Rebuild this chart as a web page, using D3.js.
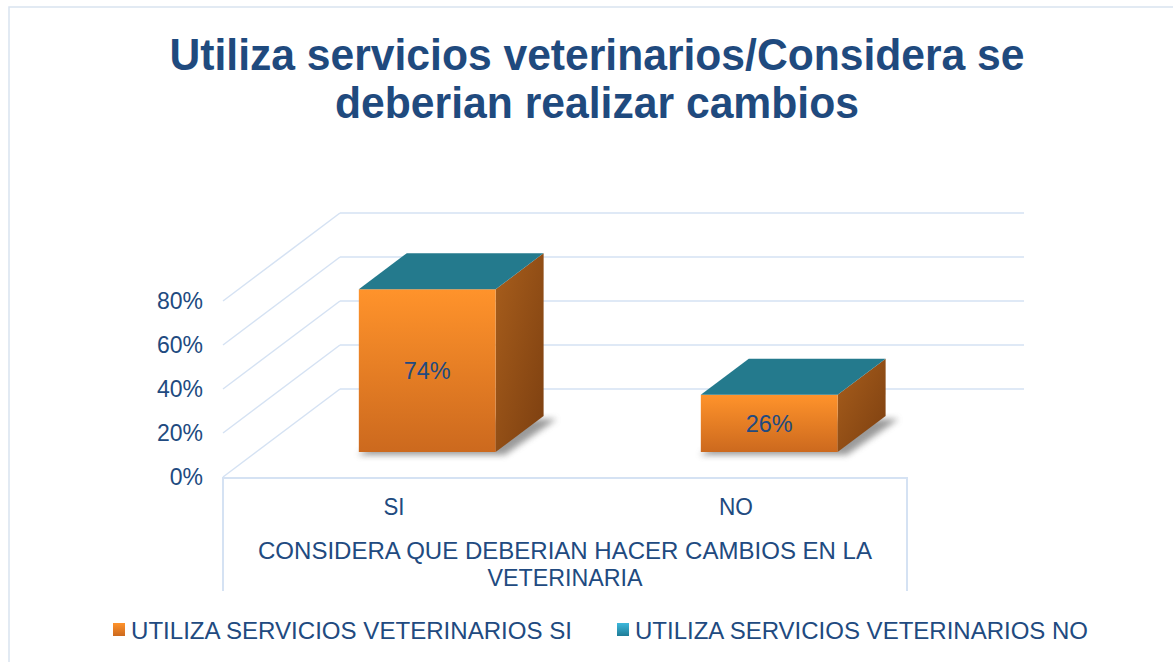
<!DOCTYPE html>
<head>
<meta charset="utf-8">
<style>
body { margin: 0; background: #fff; }
svg text { font-family: "Liberation Sans", Arial, sans-serif; fill: #214a80; }
.title text { font-weight: bold; font-size: 45px; fill: #1f4a7e; }
.tick text { font-size: 23px; }
.grid line { stroke: #d5e2f3; stroke-width: 1.5; }
</style>
</head>
<body>
<svg class="chart"></svg>
<script src="https://cdn.jsdelivr.net/npm/d3@7"></script>
<script>

const categories = ['SI', 'NO']
const siValues = [0.74, 0.26]
const noValues = [0, 0]
const seriesNames = ['UTILIZA SERVICIOS VETERINARIOS SI', 'UTILIZA SERVICIOS VETERINARIOS NO']
const yTicks = [0, 0.2, 0.4, 0.6, 0.8]
const axisTitle = ['CONSIDERA QUE DEBERIAN HACER CAMBIOS EN LA', 'VETERINARIA']
const titleLines = ['Utiliza servicios veterinarios/Considera se', 'deberian realizar cambios']

const size = {width: 1173, height: 662}
const depth = {dx: 117, dy: -88}
const barDepth = {from: 0.284, to: 0.694}

const svg = d3.select('svg')
  .attr('width', size.width)
  .attr('height', size.height)

const defs = svg.append('defs')

function gradient(id, stops, x2, y2) {
  const g = defs.append('linearGradient')
    .attr('id', id)
    .attr('x1', 0).attr('y1', 0).attr('x2', x2).attr('y2', y2)
  stops.forEach((c, i) => g.append('stop').attr('offset', i / (stops.length - 1)).attr('stop-color', c))
}
gradient('orangeFront', ['#ff932b', '#cc691e'], 0, 1)
gradient('orangeSide', ['#a85e1c', '#7c3f10'], 1, 1)
gradient('orangeKey', ['#ff932b', '#cc691e'], 0, 1)
gradient('tealKey', ['#3db8dc', '#1f7c97'], 0, 1)

defs.append('filter').attr('id', 'blur')
  .attr('x', '-20%').attr('y', '-20%').attr('width', '140%').attr('height', '140%')
  .append('feGaussianBlur').attr('stdDeviation', 3)

const series = [
  {name: seriesNames[0], values: siValues, front: 'url(#orangeFront)', side: 'url(#orangeSide)', top: '#ff932b', key: 'url(#orangeKey)'},
  {name: seriesNames[1], values: noValues, front: '#2f9bb8', side: '#1f6c80', top: '#247a8d', key: 'url(#tealKey)'}
]

// frame
svg.append('rect')
  .attr('x', 9).attr('y', 7)
  .attr('width', size.width).attr('height', size.height)
  .attr('fill', 'none')
  .attr('stroke', '#d9e3f0')
  .attr('stroke-width', 1.5)

// title
svg.append('g').attr('class', 'title')
  .selectAll('text')
  .data(titleLines)
  .enter()
  .append('text')
    .attr('x', 597)
    .attr('y', (d, i) => 70 + i * 48)
    .attr('text-anchor', 'middle')
    .attr('textLength', (d, i) => [855, 524][i])
    .attr('lengthAdjust', 'spacingAndGlyphs')
    .text(d => d)

const x = d3.scaleBand().domain(categories).range([223, 907])
const y = d3.scaleLinear().domain([0, 0.8]).range([477, 301])

const pt = (xv, v, f) => [xv + f * depth.dx, y(v) + f * depth.dy]

// walls
const grid = svg.append('g').attr('class', 'grid')
grid.selectAll('line.side')
  .data(yTicks)
  .enter()
  .append('line')
    .attr('class', 'side')
    .attr('x1', x.range()[0]).attr('y1', d => y(d))
    .attr('x2', x.range()[0] + depth.dx).attr('y2', d => y(d) + depth.dy)
grid.selectAll('line.back')
  .data(yTicks)
  .enter()
  .append('line')
    .attr('class', 'back')
    .attr('x1', x.range()[0] + depth.dx).attr('y1', d => y(d) + depth.dy)
    .attr('x2', x.range()[1] + depth.dx).attr('y2', d => y(d) + depth.dy)

// category axis box
const axisBottom = 591
grid.append('path')
  .attr('d', `M${x.range()[0]},${axisBottom}V${y(0) + 1}H${x.range()[1]}V${axisBottom}`)
  .attr('fill', 'none')
  .attr('stroke', '#d5e2f3')
  .attr('stroke-width', 2)

// y tick labels
svg.append('g').attr('class', 'tick')
  .selectAll('text')
  .data(yTicks)
  .enter()
  .append('text')
    .attr('x', 203)
    .attr('y', d => y(d))
    .attr('dy', '0.36em')
    .attr('text-anchor', 'end')
    .text(d3.format('.0%'))

// bars
const barWidth = x.bandwidth() * 0.4
const bars = svg.append('g')
categories.forEach((cat, i) => {
  const x0 = x(cat) + (x.bandwidth() - barWidth) / 2
  const x1 = x0 + barWidth
  const f0 = barDepth.from, f1 = barDepth.to
  const poly = pts => pts.map(p => p.join(',')).join(' ')

  // shadow on the floor
  const s = [pt(x0 - 4, 0, f0), pt(x1 + 6, 0, f0), pt(x1 + 10, 0, f1), pt(x0, 0, f1)]
    .map(p => [p[0] + 3, p[1] + 3])
  bars.append('polygon')
    .attr('points', poly(s))
    .attr('fill', '#6f6f6f')
    .attr('opacity', 0.7)
    .attr('filter', 'url(#blur)')

  let cum = 0
  series.forEach((sr, k) => {
    const lo = cum, hi = cum + sr.values[i]
    cum = hi
    if (hi > lo) {
      bars.append('polygon')
        .attr('points', poly([pt(x1, lo, f0), pt(x1, lo, f1), pt(x1, hi, f1), pt(x1, hi, f0)]))
        .attr('fill', sr.side)
      bars.append('polygon')
        .attr('points', poly([pt(x0, lo, f0), pt(x1, lo, f0), pt(x1, hi, f0), pt(x0, hi, f0)]))
        .attr('fill', sr.front)
    }
    if (k === series.length - 1) {
      bars.append('polygon')
        .attr('points', poly([pt(x0, hi, f0), pt(x1, hi, f0), pt(x1, hi, f1), pt(x0, hi, f1)]))
        .attr('fill', sr.top)
    }
  })

  const mid = pt((x0 + x1) / 2, siValues[i] / 2, f0)
  bars.append('text')
    .attr('x', mid[0])
    .attr('y', mid[1])
    .attr('dy', '0.36em')
    .attr('text-anchor', 'middle')
    .style('font-size', '23px')
    .attr('textLength', 47)
    .attr('lengthAdjust', 'spacingAndGlyphs')
    .text(d3.format('.0%')(siValues[i]))
})

// category labels
svg.append('g')
  .selectAll('text')
  .data(categories)
  .enter()
  .append('text')
    .attr('x', d => x(d) + x.bandwidth() / 2)
    .attr('y', 515)
    .attr('text-anchor', 'middle')
    .style('font-size', '24px')
    .attr('textLength', d => d === 'SI' ? 21 : 34)
    .attr('lengthAdjust', 'spacingAndGlyphs')
    .text(d => d)

svg.append('g')
  .selectAll('text')
  .data(axisTitle)
  .enter()
  .append('text')
    .attr('x', (x.range()[0] + x.range()[1]) / 2)
    .attr('y', (d, i) => 559 + i * 27)
    .attr('text-anchor', 'middle')
    .style('font-size', '24px')
    .attr('textLength', (d, i) => [614, 155][i])
    .attr('lengthAdjust', 'spacingAndGlyphs')
    .text(d => d)

// legend
const legend = svg.append('g')
  .selectAll('g')
  .data(series)
  .enter()
  .append('g')
    .attr('transform', (d, i) => `translate(${[113, 617][i]}, 623)`)
legend.append('rect')
  .attr('width', 12).attr('height', 13)
  .attr('fill', d => d.key)
legend.append('text')
  .attr('x', 18)
  .attr('y', 16)
  .style('font-size', '24px')
  .attr('textLength', (d, i) => [441, 453][i])
  .attr('lengthAdjust', 'spacingAndGlyphs')
  .text(d => d.name)

</script>
</body>
